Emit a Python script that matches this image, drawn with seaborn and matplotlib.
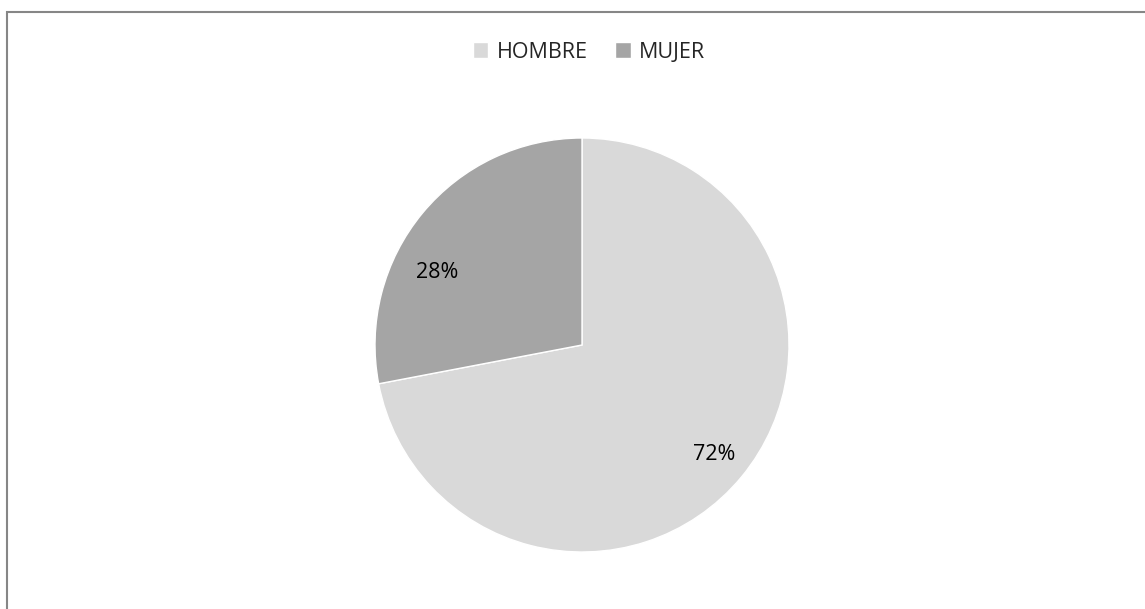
import matplotlib
matplotlib.use("Agg")
import matplotlib.pyplot as plt
import matplotlib.patches as mpatches
import seaborn as sns

categories = ["HOMBRE", "MUJER"]
values = [72, 28]
colors = ["#d9d9d9", "#a5a5a5"]


def main():
    sns.set_theme(style="white")
    plt.rcParams["font.family"] = ["Open Sans", "DejaVu Sans"]

    fig = plt.figure(figsize=(11.45, 6.09), dpi=100)
    fig.patch.set_facecolor("white")

    # pie area: centre (582, 345) px, radius 207 px
    W, H = 1145, 609
    cx, cy, r = 582, 345, 207
    ax = fig.add_axes([(cx - r) / W, (H - cy - r) / H, 2 * r / W, 2 * r / H])

    wedges, texts, autotexts = ax.pie(
        values,
        colors=colors,
        startangle=90,
        counterclock=False,
        autopct="%1.0f%%",
        pctdistance=0.83,
        radius=1,
        wedgeprops=dict(edgecolor="white", linewidth=1),
        textprops=dict(fontsize=15.5, color="#000000"),
    )
    # Excel-style label position for the smaller slice
    autotexts[1].set_position((-0.70, 0.35))
    ax.set_xlim(-1, 1)
    ax.set_ylim(-1, 1)
    ax.set_aspect("equal")
    ax.axis("off")

    fig.legend(
        wedges,
        categories,
        loc="center",
        bbox_to_anchor=(589 / W, 1 - 52 / H),
        ncol=2,
        frameon=False,
        fontsize=15.5,
        handlelength=0.7,
        handleheight=0.7,
        handletextpad=0.4,
        columnspacing=1.3,
    )

    # chart border (left/top visible, right/bottom run off the image)
    border = mpatches.Rectangle(
        (6.5 / W, -0.05), 1.2, 1 - 11.5 / H + 0.05,
        transform=fig.transFigure, fill=False,
        edgecolor="#868686", linewidth=1.5, clip_on=False,
    )
    fig.add_artist(border)

    fig.savefig("out.png", dpi=100)


if __name__ == "__main__":
    main()
